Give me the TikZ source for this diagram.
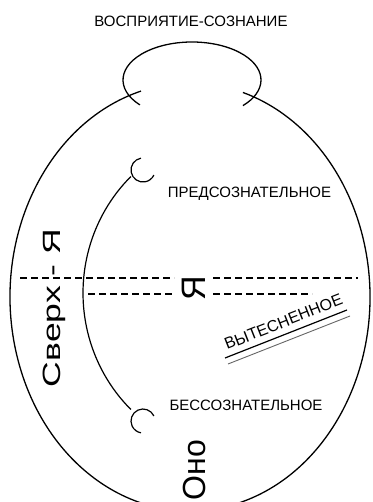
\documentclass[tikz,border=0pt]{standalone}
\usepackage{fontspec}
\setmainfont{Liberation Sans}
\begin{document}
\begin{tikzpicture}[x=1pt,y=1pt,
  curve/.style={line width=1.3pt},
  dsh/.style={line width=2pt, dash pattern=on 7pt off 4pt},
  lbl/.style={inner sep=0pt, anchor=base, font=\fontsize{15}{18}\selectfont},
  big/.style={inner sep=0pt, anchor=base, rotate=90}]
\clip (0,0) rectangle (372,-502);
\fill[white] (0,0) rectangle (372,-502);
% egg outline
\draw[curve] (190,-297) ++(105.8:180 and 214)
  arc[start angle=105.8, end angle=432.9, x radius=180, y radius=214];
% top loop (perception-consciousness)
\draw[curve] (192,-80) ++(221:69 and 38)
  arc[start angle=221, end angle=-42.4, x radius=69, y radius=38];
% inner arc with hooks
\draw[line width=1.2pt] (240,-293) ++(134:157 and 162)
  arc[start angle=134, end angle=226, x radius=157, y radius=162];
\draw[line width=1.2pt] (143,-170) ++(100:12) arc[start angle=100, end angle=335, radius=12];
\draw[line width=1.2pt] (143,-421) ++(25:12) arc[start angle=25, end angle=260, radius=12];
% dashed lines
\coordinate (d1a) at (20,-278);  \coordinate (d1b) at (174,-278);
\coordinate (d1c) at (213,-278); \coordinate (d1d) at (358,-278);
\coordinate (d2a) at (88,-294);  \coordinate (d2b) at (174,-294);
\coordinate (d2c) at (213,-294); \coordinate (d2d) at (312,-294);
\draw[dsh] (d1a) -- (d1b);
\draw[dsh] (d1c) -- (d1d);
\draw[dsh] (d2a) -- (d2b);
\draw[dsh] (d2c) -- (d2d);
% labels
\node[lbl] (title) at (191,-26.5) {ВОСПРИЯТИЕ-СОЗНАНИЕ};
\node[lbl] (pre) at (249.5,-197.4) {ПРЕДСОЗНАТЕЛЬНОЕ};
\node[lbl] (unc) at (246,-410.4) {БЕССОЗНАТЕЛЬНОЕ};
\node[big, font=\fontsize{25}{30}\selectfont] (superego) at (60,-308) {\scalebox{1.42}[1]{Сверх - Я}};
\node[big, font=\fontsize{34}{40}\selectfont] (ego) at (205,-288) {Я};
\node[big, font=\fontsize{32}{38}\selectfont] (id) at (205,-470) {Оно};
\node[inner sep=0pt, anchor=base west, rotate=21.5, font=\fontsize{16}{19}\selectfont] (vyt) at (227,-350) {ВЫТЕСНЕННОЕ};
\coordinate (u1a) at (225,-358); \coordinate (u1b) at (347,-310);
\coordinate (u2a) at (228,-364); \coordinate (u2b) at (350,-316);
\draw[line width=1.2pt] (u1a) -- (u1b);
\draw[line width=0.9pt, black!60] (u2a) -- (u2b);
\end{tikzpicture}
\end{document}
